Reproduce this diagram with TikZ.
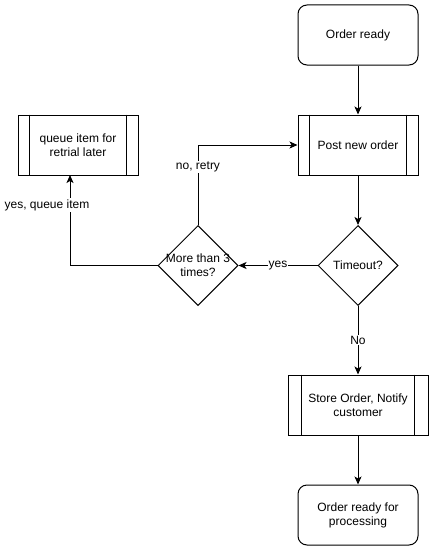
\documentclass[tikz,border=0pt]{standalone}
\usepackage{fontspec}
\setmainfont{Liberation Sans}
\usetikzlibrary{shapes.geometric,arrows.meta}
\begin{document}
\begin{tikzpicture}[x=1pt,y=-1pt,
  every node/.style={font=\fontsize{12}{14}\selectfont, text=black},
  line/.style={line width=1pt, draw=black},
  arr/.style={line, -{Stealth[length=8pt,width=7pt,inset=2pt]}},
  term/.style={line, rounded corners=9pt, minimum width=120pt, minimum height=60pt, align=center, inner sep=0pt},
  proc/.style={line, minimum height=60pt, align=center, inner sep=0pt},
  dia/.style={line, diamond, minimum width=80pt, minimum height=80pt, inner sep=0pt, shape aspect=1},
  lbl/.style={fill=white, inner sep=1pt}]
\useasboundingbox (0,0) rectangle (434,551);
% nodes
\node[term] (start) at (358,35) {Order ready};
\node[proc, minimum width=120pt] (post) at (358,145) {Post new order};
\draw[line] ([xshift=12pt]post.north west) -- ([xshift=12pt]post.south west);
\draw[line] ([xshift=-12pt]post.north east) -- ([xshift=-12pt]post.south east);
\node[dia] (to) at (358,265.5) {};
\node (totext) at (to) {Timeout?};
\node[dia] (more) at (198,265.5) {};
\node[align=center] (moretext) at (more) {More than 3\\times?};
\node[proc, minimum width=120pt] (queue) at (78,145) {queue item for\\retrial later};
\draw[line] ([xshift=12pt]queue.north west) -- ([xshift=12pt]queue.south west);
\draw[line] ([xshift=-12pt]queue.north east) -- ([xshift=-12pt]queue.south east);
\node[proc, minimum width=140pt] (store) at (358,405) {Store Order, Notify\\customer};
\draw[line] ([xshift=14pt]store.north west) -- ([xshift=14pt]store.south west);
\draw[line] ([xshift=-14pt]store.north east) -- ([xshift=-14pt]store.south east);
\node[term] (end) at (358,515) {Order ready for\\processing};
% connectors
\coordinate (qb) at (70,175);
\draw[arr] (start) -- (post);
\draw[arr] (post) -- (to);
\draw[arr] (to.west) -- node[lbl] (yes) {yes} (more.east);
\draw[arr] (more.north) |- (post.west);
\node[lbl] (noretry) at (198,167) {no, retry};
\draw[arr] (more.west) -| (qb);
\node[lbl] (yesq) at (47,205) {yes, queue item};
\draw[arr] (to.south) -- node[lbl] (no) {No} (store.north);
\draw[arr] (store) -- (end);
\end{tikzpicture}
\end{document}
